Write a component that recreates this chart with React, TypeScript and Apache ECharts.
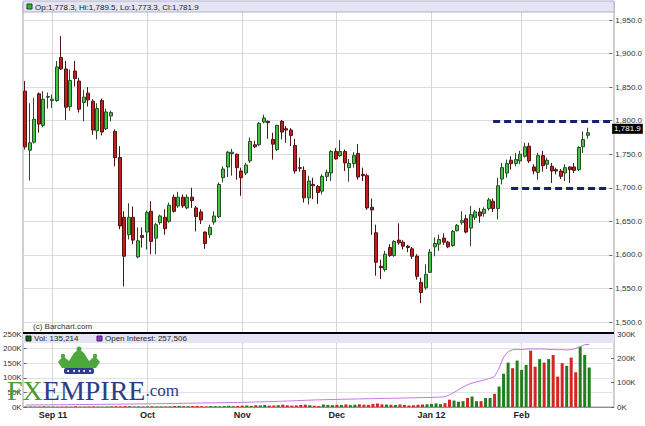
import React, { useEffect, useRef } from "react";
import * as echarts from "echarts";

const dates = [
  "2011-08-24","2011-08-25","2011-08-26","2011-08-29","2011-08-30","2011-08-31",
  "2011-09-01","2011-09-02","2011-09-06","2011-09-07","2011-09-08","2011-09-09","2011-09-12","2011-09-13","2011-09-14","2011-09-15","2011-09-16","2011-09-19","2011-09-20","2011-09-21","2011-09-22","2011-09-23","2011-09-26","2011-09-27","2011-09-28","2011-09-29","2011-09-30",
  "2011-10-03","2011-10-04","2011-10-05","2011-10-06","2011-10-07","2011-10-10","2011-10-11","2011-10-12","2011-10-13","2011-10-14","2011-10-17","2011-10-18","2011-10-19","2011-10-20","2011-10-21","2011-10-24","2011-10-25","2011-10-26","2011-10-27","2011-10-28","2011-10-31",
  "2011-11-01","2011-11-02","2011-11-03","2011-11-04","2011-11-07","2011-11-08","2011-11-09","2011-11-10","2011-11-11","2011-11-14","2011-11-15","2011-11-16","2011-11-17","2011-11-18","2011-11-21","2011-11-22","2011-11-23","2011-11-25","2011-11-28","2011-11-29","2011-11-30",
  "2011-12-01","2011-12-02","2011-12-05","2011-12-06","2011-12-07","2011-12-08","2011-12-09","2011-12-12","2011-12-13","2011-12-14","2011-12-15","2011-12-16","2011-12-19","2011-12-20","2011-12-21","2011-12-22","2011-12-23","2011-12-27","2011-12-28","2011-12-29","2011-12-30",
  "2012-01-03","2012-01-04","2012-01-05","2012-01-06","2012-01-09","2012-01-10","2012-01-11","2012-01-12","2012-01-13","2012-01-17","2012-01-18","2012-01-19","2012-01-20","2012-01-23","2012-01-24","2012-01-25","2012-01-26","2012-01-27","2012-01-30","2012-01-31",
  "2012-02-01","2012-02-02","2012-02-03","2012-02-06","2012-02-07","2012-02-08","2012-02-09","2012-02-10","2012-02-13","2012-02-14","2012-02-15","2012-02-16","2012-02-17","2012-02-21","2012-02-22","2012-02-23",
];
const emptyDates = ["2012-02-24","2012-02-27","2012-02-28","2012-02-29","2012-03-01"];

const opens = [
  1844,1756,1768,1840,1793,1835,1830,1830,1894,1877,1821,1874,1859,1827,1841,1829,1785,1830,1788,1807,1784,1745,
  1656,1630,1656,1597,1629,1634,1665,1625,1648,1656,1650,1686,1673,1686,1670,1686,1670,1664,1634,1630,1649,1657,
  1715,1731,1751,1750,1725,1722,1740,1764,1764,1798,1799,1772,1757,1799,1788,1786,1763,1730,1726,1685,1705,1702,
  1695,1717,1722,1754,1748,1754,1730,1736,1751,1720,1718,1671,1633,1583,1578,1611,1599,1622,1619,1613,1609,1598,
  1559,1551,1574,1612,1616,1625,1619,1614,1636,1648,1654,1640,1656,1664,1662,1669,1680,1669,1713,1722,1741,1736,
  1740,1747,1762,1731,1723,1748,1735,1732,1727,1725,1722,1731,1731,1727,1761,1778.3,
];
const highs = [
  1859,1826,1834,1842,1844,1842,1839,1889,1926,1889,1876,1889,1864,1846,1850,1832,1826,1833,1818,1815,1787,1762,
  1665,1677,1672,1641,1641,1666,1680,1648,1660,1668,1678,1690,1694,1690,1690,1700,1673,1668,1635,1645,1665,1708,
  1732,1755,1758,1751,1730,1737,1775,1770,1798,1809,1800,1782,1794,1801,1792,1789,1773,1745,1732,1718,1715,1704,
  1720,1727,1756,1759,1771,1757,1743,1753,1765,1730,1721,1684,1645,1593,1606,1616,1622,1647,1622,1615,1612,1601,
  1566,1586,1609,1626,1630,1632,1621,1637,1646,1665,1660,1673,1667,1670,1671,1685,1684,1715,1737,1742,1747,1752,
  1755,1767,1767,1735,1752,1755,1745,1737,1730,1728,1735,1732,1737,1762,1784,1789.5,
];
const lows = [
  1757,1711,1766,1782,1790,1818,1819,1828,1876,1801,1815,1851,1812,1799,1821,1779,1772,1778,1786,1799,1732,1638,
  1553,1623,1616,1595,1611,1608,1601,1601,1645,1630,1648,1663,1670,1670,1668,1670,1635,1646,1609,1625,1645,1655,
  1708,1716,1718,1712,1688,1719,1737,1759,1762,1796,1773,1742,1755,1772,1767,1762,1721,1724,1678,1675,1683,1676,
  1690,1710,1710,1742,1746,1725,1709,1730,1712,1710,1667,1630,1569,1564,1575,1597,1597,1615,1608,1604,1594,1563,
  1528,1548,1573,1598,1606,1615,1610,1612,1635,1645,1632,1613,1652,1648,1657,1666,1664,1653,1705,1715,1727,1732,
  1735,1745,1737,1720,1712,1724,1728,1707,1720,1713,1710,1707,1722,1725,1752,1773.3,
];
const closes = [
  1761,1767,1802,1795,1832,1836,1832,1880,1877,1820,1860,1863,1817,1835,1831,1786,1818,1783,1813,1812,1745,1643,
  1598,1656,1622,1621,1626,1663,1620,1645,1658,1639,1674,1665,1686,1673,1686,1681,1657,1652,1617,1641,1658,1705,
  1728,1753,1753,1730,1715,1734,1769,1761,1796,1804,1797,1765,1793,1783,1786,1778,1725,1729,1685,1710,1703,1693,
  1717,1723,1754,1743,1754,1737,1736,1748,1716,1718,1670,1667,1589,1581,1601,1599,1620,1618,1613,1611,1598,1568,
  1544,1571,1604,1617,1623,1619,1612,1635,1644,1651,1634,1660,1664,1658,1668,1682,1669,1703,1730,1736,1736,1742,
  1750,1761,1740,1725,1748,1733,1741,1725,1725,1717,1730,1727,1726,1760,1772,1781.9,
];
// volume in thousands of contracts
const volumes = [
  1.2,1.5,1.0,1.3,2.0,1.1,1.4,0.9,1.2,1.6,1.3,2.2,1.0,1.1,1.5,1.8,1.2,0.8,1.4,2.0,2.5,1.9,3.0,2.6,1.7,2.0,1.5,
  2.1,2.5,1.8,2.0,1.6,2.2,3.4,4.0,2.8,2.5,3.1,3.9,2.7,2.0,3.5,3.0,2.4,3.3,4.1,2.9,3.8,
  4.5,5.1,4.0,6.2,5.5,7.0,4.8,5.3,6.1,8.0,5.9,4.7,5.5,6.8,7.9,6.3,4.2,3.5,8.5,7.2,6.6,
  7.5,6.8,8.9,6.5,7.9,9.2,8.1,7.3,10.5,12.0,9.1,8.4,7.6,6.9,8.8,7.1,5.2,6.0,7.7,8.3,9.5,
  10.2,12.5,9.8,13.1,25,22,18,20,31,36,20,20,31,31,45,70,114,152,133,159,
  127,144,193,138,164,152,164,178,104,150,141,169,119,207,178,135.214,
];
// open interest in thousands of contracts
const openInterest = [
  8.2,8.4,8.5,8.7,8.9,9.0,
  9.2,9.3,9.5,9.6,9.8,10.0,10.1,10.3,10.4,10.6,10.8,11.0,11.1,11.3,11.5,11.8,12.0,12.2,12.4,12.6,12.8,
  13.0,13.3,13.5,13.8,14.0,14.3,14.6,14.9,15.2,15.5,15.8,16.1,16.4,16.7,17.0,17.3,17.6,17.9,18.2,18.5,18.8,
  19.2,19.6,20.0,20.5,21.0,21.5,22.0,22.6,23.2,23.8,24.5,25.2,26.0,26.8,27.5,28.2,28.9,29.4,29.9,30.4,30.9,
  31.3,31.7,32.1,32.5,32.9,33.3,33.7,34.0,34.3,34.6,35.0,35.4,35.8,36.2,36.6,37.0,37.4,37.8,38.2,38.6,39.0,
  39.5,40.0,40.8,41.6,50,60,71,82,92,98,104,108,112,118,125,160,205,228,235,237,
  236,238,239,238,239,238,237,236,235,236,234,236,240,248,256,257.506,
];

const monthStarts = ["2011-09-01","2011-10-03","2011-11-01","2011-12-01","2012-01-03","2012-02-01"];
const monthLabels = ["Sep 11","Oct","Nov","Dec","Jan 12","Feb"];

const resistanceLevel = 1798.7;
const resistanceFrom = "2012-01-24";
const supportLevel = 1699;
const supportFrom = "2012-01-30";

const priceMin = 1500;
const priceMax = 1950;
const priceStep = 50;
const volMax = 250000;
const volStep = 50000;
const oiMax = 300000;
const oiStep = 100000;

const lastOpen = "1,778.3";
const lastHigh = "1,789.5";
const lastLow = "1,773.3";
const lastClose = "1,781.9";
const lastVol = "135,214";
const lastOI = "257,506";

const fmt1 = new Intl.NumberFormat("en-US", { minimumFractionDigits: 1, maximumFractionDigits: 1 });

const UP = "#3fc83f";
const DOWN = "#c81c1c";
const FONT = "Liberation Sans";

export default function App() {
  const ref = useRef<HTMLDivElement>(null);
  useEffect(() => {
    if (!ref.current) return;
    const chart = echarts.init(ref.current, undefined, { renderer: "svg" });
    const axisDates = dates.concat(emptyDates);
    const candles = dates.map((_, i) => [opens[i], closes[i], lows[i], highs[i]]);
    const volData = volumes.map((v, i) => ({
      value: v * 1000,
      itemStyle: { color: closes[i] >= opens[i] ? "#1f7f1f" : "#d42424" },
    }));
    const oiData = openInterest.map((v) => v * 1000);
    const blank = axisDates.map(() => "-");
    const lastC = closes[closes.length - 1];
    const levelLine = (from: string, level: number) => {
      const start = axisDates.indexOf(from);
      return axisDates.map((_, i) => (i >= start ? level : "-"));
    };
    const lastLabelData = axisDates.map((_, i) => (i === axisDates.length - 1 ? lastC : "-"));

    const L = 23, W = 591;
    const baseX = () => ({
      type: "category" as const,
      data: axisDates,
      boundaryGap: true,
      axisLine: { show: false },
      axisTick: { show: false },
      axisLabel: { show: false },
      splitLine: { show: false },
    });
    const dashStyle = { color: "#16206e", width: 3, type: [7, 4] };

    const levelSeries = (from: string, level: number) => ({
      type: "line",
      xAxisIndex: 1,
      yAxisIndex: 1,
      data: levelLine(from, level),
      z: 6,
      silent: true,
      showSymbol: false,
      symbol: "none",
      lineStyle: dashStyle,
      emphasis: { disabled: true },
    });

    const option: any = {
      animation: false,
      backgroundColor: "#ffffff",
      grid: [
        { left: L, top: 2, width: W, height: 405, show: true, borderColor: "#a0a0a0", borderWidth: 1, backgroundColor: "transparent" },
        { left: L, top: 20, width: W, height: 302 },
        { left: L, top: 334, width: W, height: 73 },
      ],
      xAxis: [
        { ...baseX(), gridIndex: 0 },
        { ...baseX(), gridIndex: 1 },
        {
          ...baseX(),
          gridIndex: 2,
          axisLine: { show: true, lineStyle: { color: "#909090" } },
          axisLabel: {
            show: true,
            interval: (_i: number, v: string) => monthStarts.indexOf(v) >= 0,
            formatter: (v: string) => monthLabels[monthStarts.indexOf(v)] || "",
            fontFamily: FONT,
            fontSize: 9,
            fontWeight: "bold",
            color: "#222",
            margin: 3,
          },
        },
      ],
      yAxis: [
        { gridIndex: 0, type: "value", min: 0, max: 1, show: false },
        {
          gridIndex: 1,
          type: "value",
          position: "right",
          min: priceMin,
          max: priceMax,
          interval: priceStep,
          axisLine: { show: false },
          axisTick: { show: true, inside: true, length: 3, lineStyle: { color: "#666" } },
          axisLabel: { formatter: (v: number) => fmt1.format(v), fontFamily: FONT, fontSize: 8, color: "#333", margin: 3 },
          splitLine: { show: true, lineStyle: { color: "#dcdcdc", width: 1 } },
        },
        {
          gridIndex: 2,
          type: "value",
          position: "left",
          min: 0,
          max: volMax,
          interval: volStep,
          axisLine: { show: false },
          axisTick: { show: true, inside: true, length: 3, lineStyle: { color: "#666" } },
          axisLabel: { formatter: (v: number) => v / 1000 + "K", fontFamily: FONT, fontSize: 8, color: "#333", margin: 2 },
          splitLine: { show: true, lineStyle: { color: "#e2e2e2", width: 1 } },
        },
        {
          gridIndex: 2,
          type: "value",
          position: "right",
          min: 0,
          max: oiMax,
          interval: oiStep,
          axisLine: { show: false },
          axisTick: { show: true, inside: true, length: 3, lineStyle: { color: "#666" } },
          axisLabel: { formatter: (v: number) => v / 1000 + "K", fontFamily: FONT, fontSize: 8, color: "#333", margin: 3 },
          splitLine: { show: false },
        },
      ],
      series: [
        {
          type: "line",
          xAxisIndex: 0,
          yAxisIndex: 0,
          data: blank,
          z: 1,
          silent: true,
          showSymbol: false,
          markLine: {
            silent: true,
            z: 1,
            symbol: ["none", "none"],
            label: { show: false },
            lineStyle: { color: "#d6d6d6", width: 1, type: "solid" },
            data: monthStarts.map((d) => ({ xAxis: d })),
          },
        },
        {
          type: "candlestick",
          xAxisIndex: 1,
          yAxisIndex: 1,
          data: candles,
          barWidth: 3.6,
          z: 3,
          itemStyle: {
            color: UP,
            color0: DOWN,
            borderColor: "#2a4a2a",
            borderColor0: "#4e1414",
            borderWidth: 1,
          },
        },
        levelSeries(resistanceFrom, resistanceLevel),
        levelSeries(supportFrom, supportLevel),
        {
          type: "line",
          xAxisIndex: 1,
          yAxisIndex: 1,
          data: lastLabelData,
          z: 7,
          silent: true,
          clip: false,
          symbol: "circle",
          symbolSize: 0.1,
          showSymbol: true,
          itemStyle: { color: "rgba(0,0,0,0)", borderWidth: 0 },
          lineStyle: { width: 0, color: "rgba(0,0,0,0)" },
          label: {
            show: true,
            position: "right",
            distance: 2,
            offset: [0, -4],
            formatter: (p: any) => fmt1.format(p.value),
            backgroundColor: "#000",
            color: "#fff",
            fontFamily: FONT,
            fontSize: 8,
            padding: [1, 2, 1, 2],
          },
        },
        {
          type: "bar",
          xAxisIndex: 2,
          yAxisIndex: 2,
          data: volData,
          barWidth: 3,
          z: 3,
        },
        {
          type: "line",
          xAxisIndex: 2,
          yAxisIndex: 3,
          data: oiData,
          showSymbol: false,
          symbol: "none",
          z: 4,
          lineStyle: { color: "#c478e0", width: 1 },
        },
      ],
      graphic: [
        { type: "rect", z: 100, shape: { x: L, y: 1, width: W, height: 11 }, style: { fill: "#e4e4f4", stroke: "#b0b0c8", lineWidth: 1 } },
        { type: "rect", z: 101, shape: { x: 27, y: 4, width: 5, height: 5 }, style: { fill: "#2fb52f", stroke: "#1a4a1a", lineWidth: 1 } },
        { type: "text", z: 101, x: 35, y: 7, style: { text: `Op:${lastOpen}, Hi:${lastHigh}, Lo:${lastLow}, Cl:${lastClose}`, fill: "#222", font: `8px "${FONT}"`, verticalAlign: "middle" } },
        { type: "text", z: 101, x: 33, y: 326, style: { text: "(c) Barchart.com", fill: "#333", font: `8px "${FONT}"`, verticalAlign: "middle" } },
        { type: "line", z: 102, shape: { x1: L, y1: 333, x2: L + W, y2: 333 }, style: { stroke: "#000", lineWidth: 2 } },
        { type: "rect", z: 100, shape: { x: L, y: 334, width: W, height: 9 }, style: { fill: "#e4e4f4", stroke: "none" } },
        { type: "rect", z: 101, shape: { x: 26, y: 336, width: 5, height: 5 }, style: { fill: "#1a5a1a", stroke: "#0d2d0d", lineWidth: 1 } },
        { type: "text", z: 101, x: 34, y: 338.5, style: { text: `Vol: ${lastVol}`, fill: "#222", font: `8px "${FONT}"`, verticalAlign: "middle" } },
        { type: "rect", z: 101, shape: { x: 97, y: 336, width: 5, height: 5 }, style: { fill: "#8a3fc0", stroke: "#4a1a70", lineWidth: 1 } },
        { type: "text", z: 101, x: 105, y: 338.5, style: { text: `Open Interest: ${lastOI}`, fill: "#222", font: `8px "${FONT}"`, verticalAlign: "middle" } },
        // FXEMPIRE logo
        {
          type: "polygon",
          z: 110,
          shape: { points: [[58, 362], [63, 356], [69, 361], [74, 353], [79, 349], [84, 353], [89, 361], [95, 356], [100, 362], [96, 368], [62, 368]] },
          style: { fill: "#4ca83a" },
        },
        { type: "circle", z: 111, shape: { cx: 79, cy: 349, r: 2.5 }, style: { fill: "#4ca83a" } },
        { type: "circle", z: 111, shape: { cx: 63, cy: 356, r: 2.2 }, style: { fill: "#4ca83a" } },
        { type: "circle", z: 111, shape: { cx: 95, cy: 356, r: 2.2 }, style: { fill: "#4ca83a" } },
        { type: "rect", z: 111, shape: { x: 64, y: 368, width: 30, height: 6, r: 2 }, style: { fill: "#2b3d86" } },
        ...[68, 74, 79, 84, 90].map((cx) => ({ type: "circle", z: 112, shape: { cx, cy: 371, r: 1 }, style: { fill: "#ffffff" } })),
        {
          type: "text",
          z: 110,
          x: 7,
          y: 404,
          style: {
            text: "{g|FX}{b|EMPIRE}{c|.com}",
            verticalAlign: "bottom",
            rich: {
              g: { fill: "#4a9a36", font: `28px "Liberation Serif"` },
              b: { fill: "#2b3d86", font: `28px "Liberation Serif"` },
              c: { fill: "#2b3d86", font: `17px "Liberation Serif"` },
            },
          },
        },
      ],
    };
    chart.setOption(option);
    return () => chart.dispose();
  }, []);
  return <div ref={ref} style={{ position: "absolute", left: 0, top: 0, width: 645, height: 426 }} />;
}
